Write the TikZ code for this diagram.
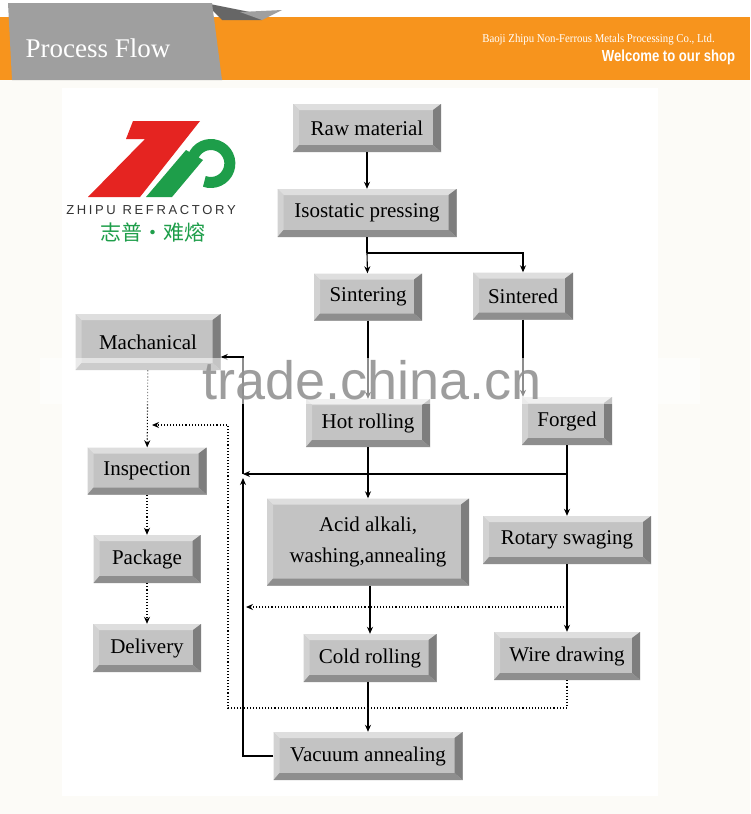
\documentclass[tikz,border=0pt]{standalone}
\usepackage{fontspec}
\setmainfont{Liberation Serif}
\newfontfamily\sansf{Liberation Sans}
\newfontfamily\cjkf{Noto Sans CJK SC}
\usetikzlibrary{arrows.meta}
\definecolor{orng}{HTML}{F7941D}
\definecolor{face}{HTML}{C3C3C3}
\definecolor{bevT}{HTML}{DEDEDE}
\definecolor{bevL}{HTML}{D2D2D2}
\definecolor{bevR}{HTML}{7E7E7E}
\definecolor{bevB}{HTML}{8E8E8E}
\definecolor{zred}{HTML}{E52421}
\definecolor{zgreen}{HTML}{1E9E4A}
\definecolor{offw}{HTML}{FCFBF7}
\tikzset{
  btn/.style={fill=face, inner sep=0pt, minimum height=48pt, font=\fontsize{21}{25}\selectfont, align=center,
    path picture={
      \def\pb{path picture bounding box}
      \fill[bevT] (\pb.north west) -- (\pb.north east) -- ([xshift=-8pt,yshift=-6pt]\pb.north east) -- ([xshift=6pt,yshift=-6pt]\pb.north west) -- cycle;
      \fill[bevL] (\pb.north west) -- ([xshift=6pt,yshift=-6pt]\pb.north west) -- ([xshift=6pt,yshift=7pt]\pb.south west) -- (\pb.south west) -- cycle;
      \fill[bevR] (\pb.north east) -- ([xshift=-8pt,yshift=-6pt]\pb.north east) -- ([xshift=-8pt,yshift=7pt]\pb.south east) -- (\pb.south east) -- cycle;
      \fill[bevB] (\pb.south west) -- ([xshift=6pt,yshift=7pt]\pb.south west) -- ([xshift=-8pt,yshift=7pt]\pb.south east) -- (\pb.south east) -- cycle;
    }},
  ar/.style={-{Stealth[length=7pt,width=6pt]}, line width=1.1pt},
  ln/.style={line width=1.1pt},
  dar/.style={-{Stealth[length=7pt,width=6pt]}, line width=1.1pt, dotted},
}
\begin{document}
\begin{tikzpicture}[x=1pt,y=-1pt]
\useasboundingbox (0,0) rectangle (750,814);
\fill[white] (0,0) rectangle (750,814);
\fill[offw] (0,80) rectangle (750,814);
\fill[white] (62,88) rectangle (658,796);
% header
\fill[orng] (0,17) rectangle (750,80);
\fill[gray!80!black] (205,3) -- (250,12) -- (262,20) -- (222,20) -- cycle;
\fill[gray!75] (240,12) -- (282,10) -- (272,15) -- (262,20) -- cycle;
\fill[gray!75] (8,3) -- (212,3) -- (222,80) -- (12,80) -- cycle;
\node[anchor=west, text=white, font=\fontsize{27}{30}\selectfont] (title) at (22,48) {Process Flow};
\node[anchor=east, text=white, font=\fontsize{12}{14}\selectfont, xscale=0.9] (co) at (718,40) {Baoji Zhipu Non-Ferrous Metals Processing Co., Ltd.};
\node[anchor=east, text=white, font=\sansf\bfseries\fontsize{16}{18}\selectfont, xscale=0.82] (wel) at (738,57) {Welcome to our shop};
% logo
\fill[zred] (133,121) -- (200,121) -- (140,197) -- (88,197) -- (145,139) -- (126,139) -- cycle;
\fill[zgreen] (146,197) -- (172,197) -- (203,160) -- (186,150) -- cycle;
\draw[zgreen, line width=11pt] (193,157) arc[start angle=200, end angle=470, radius=19];
\node[font=\sansf\fontsize{13}{15}\selectfont, text=black!80] (zr) at (151,210) {Z\hspace{2.6pt}H\hspace{2.6pt}I\hspace{2.6pt}P\hspace{2.6pt}U\hspace{7pt}R\hspace{2.6pt}E\hspace{2.6pt}F\hspace{2.6pt}R\hspace{2.6pt}A\hspace{2.6pt}C\hspace{2.6pt}T\hspace{2.6pt}O\hspace{2.6pt}R\hspace{2.6pt}Y};
\node[font=\cjkf\fontsize{21}{23}\selectfont, text=zgreen] (cn) at (153,232) {志普·难熔};
% boxes
\node[btn, minimum width=148pt] (raw) at (367,128) {Raw material};
\node[btn, minimum width=179pt] (iso) at (367,213) {Isostatic pressing};
\node[btn, minimum width=108pt, minimum height=47pt] (sint) at (368,297) {Sintering};
\node[btn, minimum width=100pt, minimum height=47pt] (sntd) at (523,296) {Sintered};
\node[btn, minimum width=145pt, minimum height=56pt] (mach) at (148,342) {Machanical};
\node[btn, minimum width=124pt] (hot) at (368,423) {Hot rolling};
\node[btn, minimum width=90pt] (forg) at (567,421) {Forged};
\node[btn, minimum width=119pt, minimum height=47pt] (insp) at (147,471) {Inspection};
\node[btn, minimum width=107pt] (pack) at (147,559) {Package};
\node[btn, minimum width=108pt] (del) at (147,648) {Delivery};
\node[btn, minimum width=202pt, minimum height=87pt, font=\fontsize{21}{31}\selectfont] (acid) at (368,542) {Acid alkali,\\washing,annealing};
\node[btn, minimum width=168pt] (rot) at (567,540) {Rotary swaging};
\node[btn, minimum width=133pt] (cold) at (370,658) {Cold rolling};
\node[btn, minimum width=146pt] (wire) at (567,656) {Wire drawing};
\node[btn, minimum width=189pt] (vac) at (368,756) {Vacuum annealing};
% coordinates
\coordinate (split) at (367,253);
\coordinate (sr) at (523,253);
\coordinate (fj) at (567,474);
\coordinate (lj) at (243,474);
\coordinate (mj) at (243,357);
\coordinate (vj) at (243,756);
\coordinate (vt) at (243,478);
\coordinate (rj) at (567,607);
\coordinate (rl) at (246,607);
\coordinate (w1) at (567,708);
\coordinate (w2) at (228,708);
\coordinate (w3) at (228,425);
\coordinate (w4) at (152,425);
% connectors
\draw[ar] (raw) -- (iso);
\draw[ln] (iso) -- (split);
\draw[ar] (split) -- (sint);
\draw[ar] (split) -- (sr) -- (sntd);
\draw[ar] (sint) -- (hot);
\draw[ar] (sntd.south) -- (sntd.south |- forg.north);
\draw[ar] (hot) -- (acid);
\draw[ar] (forg) -- (rot);
\draw[ar] (fj) -- (lj);
\draw[ar] (lj) -- (mj) -- (mach.east |- mj);
\draw[ar] (rot) -- (wire);
\draw[dar] (rj) -- (rl);
\draw[ar] (acid.south -| cold) -- (cold);
\draw[ar] (cold.south -| vac.north) -- (vac.north);
\draw[ar] (vac) -- (vj) -- (vt);
\draw[dar] (wire) -- (w1) -- (w2) -- (w3) -- (w4);
\draw[dar] (mach) -- (insp);
\draw[dar] (insp) -- (pack);
\draw[dar] (pack) -- (del);
% watermark
\fill[white, opacity=0.55] (40,358) rectangle (700,404);
\node[font=\sansf\fontsize{54}{56}\selectfont, text=gray!85, opacity=0.9] (wm) at (372,380) {trade.china.cn};
\end{tikzpicture}
\end{document}
